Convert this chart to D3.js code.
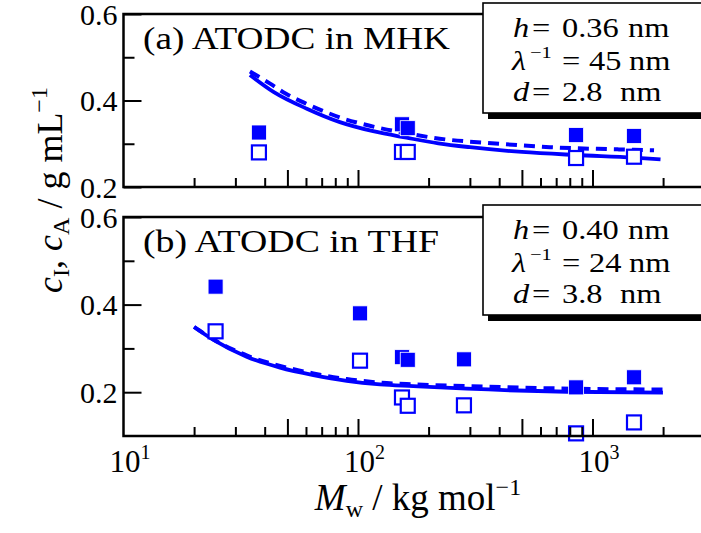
<!DOCTYPE html>
<html>
<head>
<meta charset="utf-8">
<script src="https://cdn.jsdelivr.net/npm/d3@7"></script>
<style>
  body { margin: 0; background: #fff; }
  text { font-family: "Liberation Serif", "Times New Roman", serif; fill: #000; }
</style>
</head>
<body>
<div id="chart"></div>
<script>
// DATA ************************************************************
// (a) ATODC in MHK - filled = c_I, open = c_A
const mwA = [37.8, 154, 163, 851, 1503];
const cIA = [0.326, 0.345, 0.336, 0.320, 0.318];
const cAA = [0.280, 0.281, 0.281, 0.267, 0.270];
// theory curves (a)
const curveMwSolidA = [34.6, 43.6, 60.5, 83.7, 116, 161, 220, 300, 500, 850, 1500, 1950];
const curveSolidA   = [0.459, 0.420, 0.381, 0.350, 0.329, 0.314, 0.301, 0.292, 0.281, 0.274, 0.268, 0.264];
const curveMwDashA  = [34.6, 42.2, 49.1, 59.9, 71.5, 85.6, 104, 127, 167, 208, 402, 658, 1280, 1830];
const curveDashA    = [0.467, 0.439, 0.416, 0.393, 0.375, 0.359, 0.346, 0.335, 0.323, 0.314, 0.300, 0.292, 0.287, 0.285];

// (b) ATODC in THF
const mwB = [24.7, 102, 154, 163, 283, 851, 1503];
const cIB = [0.441, 0.380, 0.280, 0.274, 0.275, 0.211, 0.234];
const cAB = [0.339, 0.272, 0.188, 0.169, 0.170, 0.106, 0.131];
const curveMwSolidB = [20.0, 24.1, 33.5, 46.5, 64.5, 89.5, 124, 172, 291, 779, 1997];
const curveSolidB   = [0.349, 0.320, 0.281, 0.256, 0.239, 0.226, 0.218, 0.214, 0.208, 0.201, 0.199];
const curveMwDashB  = [20.0, 24.1, 33.5, 46.5, 64.5, 89.5, 124, 172, 291, 650, 1997];
const curveDashB    = [0.349, 0.321, 0.284, 0.260, 0.243, 0.230, 0.222, 0.218, 0.214, 0.209, 0.206];

const yTicksMajor = [0.2, 0.4, 0.6];
const yTicksMinor = [0.3, 0.5];
const xTicksLong = [50, 100, 500, 1000];
const xTicksShort = [20, 30, 40, 60, 70, 80, 90, 200, 300, 400, 600, 700, 800, 900, 2000, 3000];
const xLabelExp = [1, 2, 3];

// LAYOUT **********************************************************
const width = 701, height = 533;
const blue = "#0000ff";

const svg = d3.select("#chart").append("svg")
  .attr("width", width).attr("height", height);
svg.append("rect").attr("width", width).attr("height", height).attr("fill", "#fff");

const x = d3.scaleLog().domain([10, 4000]).range([123.5, 123.5 + Math.log10(400) * 234.5]);

const panels = [
  { y: d3.scaleLinear().domain([0.2, 0.6]).range([187, 14]),
    mw: mwA, cI: cIA, cA: cAA,
    solid: [curveMwSolidA, curveSolidA], dash: [curveMwDashA, curveDashA],
    label: "(a) ATODC in MHK", labelY: 49, labelW: 307,
    legend: { top: 3, h: "0.36", lam: "45", d: "2.8" } },
  { y: d3.scaleLinear().domain([0.1, 0.6]).range([436, 217]),
    mw: mwB, cI: cIB, cA: cAB,
    solid: [curveMwSolidB, curveSolidB], dash: [curveMwDashB, curveDashB],
    label: "(b) ATODC in THF", labelY: 252, labelW: 296,
    legend: { top: 205, h: "0.40", lam: "24", d: "3.8" } }
];

const line = d3.line().curve(d3.curveMonotoneX);

panels.forEach(p => {
  const g = svg.append("g");
  const [y0, y1] = p.y.range();

  // curves
  const solidPts = p.solid[0].map((m, i) => [x(m), p.y(p.solid[1][i])]);
  const dashPts = p.dash[0].map((m, i) => [x(m), p.y(p.dash[1][i])]);
  g.append("path").attr("d", line(dashPts)).attr("fill", "none")
    .attr("stroke", blue).attr("stroke-width", 4).attr("stroke-dasharray", "11,7");
  g.append("path").attr("d", line(solidPts)).attr("fill", "none")
    .attr("stroke", blue).attr("stroke-width", 3.8);

  // open squares c_A
  g.selectAll(".open").data(p.mw).enter().append("rect")
    .attr("x", (d) => x(d) - 7).attr("y", (d, i) => p.y(p.cA[i]) - 7)
    .attr("width", 14).attr("height", 14)
    .attr("fill", "#fff").attr("stroke", blue).attr("stroke-width", 2.2);
  // filled squares c_I
  g.selectAll(".fill").data(p.mw).enter().append("rect")
    .attr("x", (d) => x(d) - 7.5).attr("y", (d, i) => p.y(p.cI[i]) - 7.5)
    .attr("width", 15).attr("height", 15)
    .attr("fill", blue).attr("stroke", "#fff").attr("stroke-width", 0.8);

  // y axis: inward ticks
  const yMaj = g.append("g").attr("transform", `translate(${x(10)},0)`)
    .call(d3.axisLeft(p.y).tickValues(yTicksMajor).tickSizeInner(-18).tickSizeOuter(0)
      .tickPadding(6).tickFormat(d3.format(".1f")));
  const yMin = g.append("g").attr("transform", `translate(${x(10)},0)`)
    .call(d3.axisLeft(p.y).tickValues(yTicksMinor).tickSizeInner(-11).tickSizeOuter(0).tickFormat(""));
  [yMaj, yMin].forEach(a => {
    a.select(".domain").remove();
    a.selectAll("line").attr("stroke", "#000").attr("stroke-width", 2);
    a.selectAll("text").attr("font-size", 30).attr("font-family", "Liberation Serif")
      .attr("fill", "#000").attr("dy", "0.34em");
  });

  // x axis ticks (inward)
  const xL = g.append("g").attr("transform", `translate(0,${y0})`)
    .call(d3.axisBottom(x).tickValues(xTicksLong).tickSizeInner(-17).tickSizeOuter(0).tickFormat(""));
  const xS = g.append("g").attr("transform", `translate(0,${y0})`)
    .call(d3.axisBottom(x).tickValues(xTicksShort).tickSizeInner(-9).tickSizeOuter(0).tickFormat(""));
  [xL, xS].forEach(a => {
    a.select(".domain").remove();
    a.selectAll("line").attr("stroke", "#000").attr("stroke-width", 2);
  });

  // frame
  g.append("rect").attr("x", x(10)).attr("y", y1)
    .attr("width", x(4000) - x(10)).attr("height", y0 - y1)
    .attr("fill", "none").attr("stroke", "#000").attr("stroke-width", 2.5);

  // panel label
  g.append("text").attr("x", 143).attr("y", p.labelY)
    .attr("font-size", 32).attr("textLength", p.labelW).attr("lengthAdjust", "spacingAndGlyphs")
    .text(p.label);

  // parameter box with shadow
  const L = p.legend;
  g.append("rect").attr("x", 488).attr("y", L.top + 6).attr("width", 260).attr("height", 110).attr("fill", "#000");
  g.append("rect").attr("x", 483).attr("y", L.top).attr("width", 260).attr("height", 110)
    .attr("fill", "#fff").attr("stroke", "#000").attr("stroke-width", 1.6);
  const fs = 27, sx = 1.2;
  const lx = v => (v - 513) / sx;
  const b1 = L.top + 34, b2 = L.top + 67, b3 = L.top + 98;
  const t1 = g.append("text").attr("transform", `translate(513,${b1}) scale(${sx},1)`).attr("font-size", fs);
  t1.append("tspan").attr("x", lx(513)).attr("font-style", "italic").text("h");
  t1.append("tspan").attr("x", lx(532)).text("=");
  t1.append("tspan").attr("x", lx(562)).text(L.h);
  t1.append("tspan").attr("x", lx(628)).text("nm");
  const t2 = g.append("text").attr("transform", `translate(513,${b2}) scale(${sx},1)`).attr("font-size", fs);
  t2.append("tspan").attr("x", lx(512)).attr("font-style", "italic").text("λ");
  t2.append("tspan").attr("x", lx(530)).attr("dy", -12).attr("font-size", 17).text("−1");
  t2.append("tspan").attr("x", lx(562)).attr("dy", 12).text("=");
  t2.append("tspan").attr("x", lx(589)).text(L.lam);
  t2.append("tspan").attr("x", lx(629)).text("nm");
  const t3 = g.append("text").attr("transform", `translate(513,${b3}) scale(${sx},1)`).attr("font-size", fs);
  t3.append("tspan").attr("x", lx(513)).attr("font-style", "italic").text("d");
  t3.append("tspan").attr("x", lx(532)).text("=");
  t3.append("tspan").attr("x", lx(562)).text(L.d);
  t3.append("tspan").attr("x", lx(620)).text("nm");
});

// x tick labels 10^n
xLabelExp.forEach(e => {
  const t = svg.append("text").attr("x", x(Math.pow(10, e)) - 14).attr("y", 472).attr("font-size", 31);
  t.append("tspan").text("10");
  t.append("tspan").attr("dy", -13).attr("font-size", 20).text(e);
});

// axis titles
const xt = svg.append("text").attr("x", 418).attr("y", 510).attr("font-size", 37).attr("text-anchor", "middle");
xt.append("tspan").attr("font-style", "italic").text("M");
xt.append("tspan").attr("dy", 7).attr("font-size", 24).text("w");
xt.append("tspan").attr("dy", -7).text(" / kg mol");
xt.append("tspan").attr("dy", -15).attr("font-size", 24).text("−1");

const yt = svg.append("text").attr("transform", "translate(62,190) rotate(-90)")
  .attr("font-size", 36).attr("text-anchor", "middle");
yt.append("tspan").attr("font-style", "italic").text("c");
yt.append("tspan").attr("dy", 7).attr("font-size", 24).text("I");
yt.append("tspan").attr("dy", -7).text(", ");
yt.append("tspan").attr("font-style", "italic").text("c");
yt.append("tspan").attr("dy", 7).attr("font-size", 24).text("A");
yt.append("tspan").attr("dy", -7).text(" / g mL");
yt.append("tspan").attr("dy", -15).attr("font-size", 24).text("−1");
</script>
</body>
</html>
